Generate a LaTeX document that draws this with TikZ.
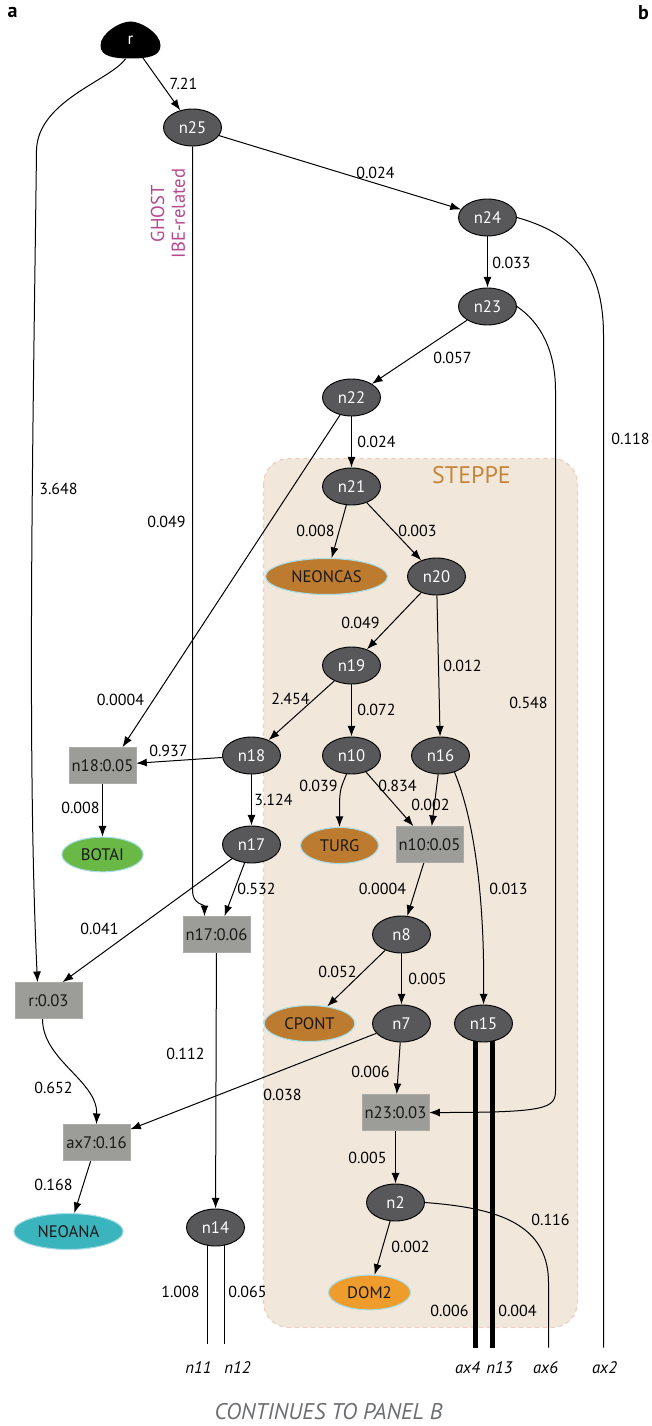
\documentclass[tikz,border=0pt]{standalone}
\usepackage{fontspec}
\setmainfont{PT Sans}
\usetikzlibrary{shapes.geometric,arrows.meta,calc,backgrounds}
\definecolor{ndgray}{HTML}{58585A}
\definecolor{boxgray}{HTML}{9C9D98}
\definecolor{steppefill}{HTML}{F1E7DB}
\definecolor{steppeedge}{HTML}{EFCDBD}
\definecolor{steppetext}{HTML}{C5863C}
\definecolor{brownleaf}{HTML}{BD7B2F}
\definecolor{greenleaf}{HTML}{6AB845}
\definecolor{tealleaf}{HTML}{3BB5BD}
\definecolor{orangeleaf}{HTML}{EE9D2D}
\definecolor{leafedge}{HTML}{A8DCE5}
\definecolor{ghostcol}{HTML}{B5498F}
\definecolor{contgray}{HTML}{6D6E71}
\newcommand\labfont{\fontsize{12}{14}\selectfont}
\newcommand\ndfont{\fontsize{12.5}{14}\selectfont}
\begin{document}
\begin{tikzpicture}[x=0.75pt,y=-0.75pt,
  nd/.style={ellipse, draw=black, line width=0.7pt, fill=ndgray, text=white,
    minimum width=43.5pt, minimum height=27.75pt, inner sep=0pt, font=\ndfont},
  bx/.style={rectangle, fill=boxgray, draw=boxgray!85!white, line width=0.5pt, text=black!90,
    minimum width=50pt, minimum height=27pt, inner sep=0pt, font=\ndfont},
  leaf/.style={ellipse, draw=leafedge, line width=0.8pt, text=black!90,
    minimum height=27pt, inner sep=0pt, font=\ndfont},
  lab/.style={font=\labfont, inner sep=0pt},
  tip/.style={font=\ndfont\itshape, inner sep=0pt},
  arr/.style={-{Latex[length=8pt,width=6pt]}, line width=0.75pt},
  ln/.style={line width=0.75pt},
  thick2/.style={line width=3.75pt},
]
\useasboundingbox (0,0) rectangle (651,1426);
\begin{scope}[shift={(0.5,0.5)}]

% panel letters
\node[font=\fontsize{15}{17}\selectfont\bfseries, inner sep=0pt] (pa) at (12,12) {a};
\node[font=\fontsize{15}{17}\selectfont\bfseries, inner sep=0pt] (pb) at (643,12) {b};

% root blob
\fill[black] (130,21) .. controls (141,21) and (160,33) .. (160,45)
  .. controls (160,56) and (147,58) .. (130,58)
  .. controls (113,58) and (100,56) .. (100,45)
  .. controls (100,33) and (119,21) .. (130,21);
\node[ellipse, minimum width=45pt, minimum height=27pt, inner sep=0pt, text=white, font=\ndfont] (r) at (130,40) {r};

% inner nodes
\node[nd] (n25) at (192,127) {n25};
\node[nd] (n24) at (487,217) {n24};
\node[nd] (n23) at (487,306) {n23};
\node[nd] (n22) at (351,397) {n22};
\node[nd] (n21) at (351,486) {n21};
\node[nd] (n20) at (436,576) {n20};
\node[nd] (n19) at (351,665) {n19};
\node[nd] (n18) at (251,755) {n18};
\node[nd] (n10) at (351,755) {n10};
\node[nd] (n16) at (440,755) {n16};
\node[nd] (n17) at (251,844) {n17};
\node[nd] (n8) at (401,934) {n8};
\node[nd] (n7) at (401,1023) {n7};
\node[nd] (n15) at (483,1023) {n15};
\node[nd] (n14) at (215,1227) {n14};
\node[nd] (n2) at (395,1202) {n2};

% admixture boxes
\node[bx] (b18) at (102,765) {n18:0.05};
\node[bx] (b10) at (429,844) {n10:0.05};
\node[bx] (b17) at (216,934) {n17:0.06};
\node[bx] (rr) at (48,1000) {r:0.03};
\node[bx] (b23) at (395,1112) {n23:0.03};
\node[bx] (b7) at (96,1142) {ax7:0.16};

% leaves
\node[leaf, fill=brownleaf, minimum width=91.5pt] (neoncas) at (326,576) {NEONCAS};
\node[leaf, fill=greenleaf, minimum width=61pt, minimum height=26pt] (botai) at (102,854) {BOTAI};
\node[leaf, fill=brownleaf, minimum width=58.5pt] (turg) at (339,845) {TURG};
\node[leaf, fill=brownleaf, minimum width=68pt] (cpont) at (309,1023) {CPONT};
\node[leaf, fill=tealleaf, minimum width=82pt] (neoana) at (68,1231) {NEOANA};
\node[leaf, fill=orangeleaf, minimum width=61.5pt, minimum height=26pt] (dom2) at (369,1292) {DOM2};

% free ends
\coordinate (e11) at (207,1343);
\coordinate (e12) at (224,1343);
\coordinate (eax4) at (475,1347);
\coordinate (e13) at (492,1347);
\coordinate (eax6) at (548,1347);
\coordinate (eax2) at (603,1347);

\begin{scope}[on background layer]
\draw[fill=steppefill, draw=steppeedge, dashed, line width=0.9pt, rounded corners=19pt]
  (263,458) rectangle (577,1327);

\draw[arr] (r) -- (n25);
\draw[arr] ($(r.south)+(-5,0)$) .. controls (110,80) and (37,100) .. (36,150)
  .. controls (33,400) and (26,750) .. ($(rr.north)+(-11,0)$);
\draw[arr] (n25) -- (n24);
\draw[arr] (n25.south) -- (192,890) .. controls (192,904) and (204,904) .. ($(b17.north)+(-12,0)$);
\draw[arr] (n24) -- (n23);
\draw[ln] (n24.east) .. controls (570,232) and (603,262) .. (603,335) -- (eax2);
\draw[arr] (n23) -- (n22);
\draw[arr] (n23.east) .. controls (540,322) and (555,350) .. (555,390) -- (555,1090)
  .. controls (555,1108) and (546,1112) .. (b23.east);
\draw[arr] (n22) -- (n21);
\draw[arr] (n22) -- ($(b18.north)+(20,0)$);
\draw[arr] (n21) -- (neoncas);
\draw[arr] (n21) -- (n20);
\draw[arr] (n20) -- (n19);
\draw[arr] (n20) -- (n16);
\draw[arr] (n19) -- (n18);
\draw[arr] (n19) -- (n10);
\draw[arr] (n18) -- (b18);
\draw[arr] (b18) -- (botai);
\draw[arr] (n18) -- (n17);
\draw[arr] (n10.255) .. controls (339,790) .. (turg.north);
\draw[arr] (n10) -- (b10);
\draw[arr] (n16) -- (b10);
\draw[arr] (n16.310) .. controls (478,830) and (484,920) .. (n15.north);
\draw[arr] (n17) -- ($(rr.north)+(14,0)$);
\draw[arr] (n17) -- ($(b17.north)+(8,0)$);
\draw[arr] (b10) -- (n8);
\draw[arr] (b17) -- (n14);
\draw[arr] (n8) -- (cpont);
\draw[arr] (n8) -- (n7);
\draw[arr] ($(rr.south)+(-6,0)$) .. controls (42,1060) and (97,1080) .. (b7.north);
\draw[arr] (n7) -- (b7);
\draw[arr] (n7) -- (b23);
\draw[arr] (b7) -- (neoana);
\draw[arr] (b23) -- (n2);
\draw[arr] (n2) -- (dom2);
\draw[ln] (n2.east) .. controls (490,1207) and (548,1220) .. (548,1282) -- (eax6);
\draw[thick2] ($(n15.center)+(-8,0)$) -- (eax4);
\draw[thick2] ($(n15.center)+(9,0)$) -- (e13);
\draw[ln] ($(n14.center)+(-8,0)$) -- (e11);
\draw[ln] ($(n14.center)+(9,0)$) -- (e12);
\end{scope}

\node[font=\fontsize{18}{20}\selectfont, text=steppetext, inner sep=0pt] (steppe) at (471,475) {STEPPE};
\node[font=\fontsize{14}{16}\selectfont, text=ghostcol, rotate=90, inner sep=0pt] (ghost) at (157,213) {GHOST};
\node[font=\fontsize{14}{16}\selectfont, text=ghostcol, rotate=90, inner sep=0pt] (ibe) at (178,213) {IBE-related};

% edge labels
\node[lab] (l1) at (183,83) {7.21};
\node[lab] (l2) at (58,488) {3.648};
\node[lab] (l3) at (166,521) {0.049};
\node[lab] (l4) at (375,172) {0.024};
\node[lab] (l5) at (511,262) {0.033};
\node[lab] (l6) at (630,438) {0.118};
\node[lab] (l7) at (528,702) {0.548};
\node[lab] (l8) at (452,357) {0.057};
\node[lab] (l9) at (376,441) {0.024};
\node[lab] (l10) at (120,699) {0.0004};
\node[lab] (l11) at (315,530) {0.008};
\node[lab] (l12) at (417,530) {0.003};
\node[lab] (l13) at (360,622) {0.049};
\node[lab] (l14) at (462,665) {0.012};
\node[lab] (l15) at (290,698) {2.454};
\node[lab] (l16) at (376,709) {0.072};
\node[lab] (l17) at (168,750) {0.937};
\node[lab] (l18) at (80,807) {0.008};
\node[lab] (l19) at (273,799) {3.124};
\node[lab] (l20) at (318,785) {0.039};
\node[lab] (l21) at (397,785) {0.834};
\node[lab] (l22) at (430,804) {0.002};
\node[lab] (l23) at (508,888) {0.013};
\node[lab] (l24) at (99,928) {0.041};
\node[lab] (l25) at (256,888) {0.532};
\node[lab] (l26) at (382,888) {0.0004};
\node[lab] (l27) at (185,1053) {0.112};
\node[lab] (l28) at (337,971) {0.052};
\node[lab] (l29) at (427,978) {0.005};
\node[lab] (l30) at (53,1087) {0.652};
\node[lab] (l31) at (282,1094) {0.038};
\node[lab] (l32) at (370,1071) {0.006};
\node[lab] (l33) at (53,1184) {0.168};
\node[lab] (l34) at (367,1157) {0.005};
\node[lab] (l35) at (410,1246) {0.002};
\node[lab] (l36) at (550,1219) {0.116};
\node[lab] (l37) at (449,1310) {0.006};
\node[lab] (l38) at (517,1310) {0.004};
\node[lab] (l39) at (180,1291) {1.008};
\node[lab] (l40) at (247,1291) {0.065};

% leaf tip labels
\node[tip] (t11) at (198,1367) {n11};
\node[tip] (t12) at (237,1367) {n12};
\node[tip] (tax4) at (467,1367) {ax4};
\node[tip] (t13) at (499,1367) {n13};
\node[tip] (tax6) at (545,1367) {ax6};
\node[tip] (tax2) at (604,1367) {ax2};

\node[font=\fontsize{17}{19}\selectfont\itshape, text=contgray, inner sep=0pt] (cont) at (328,1411) {CONTINUES TO PANEL B};
\end{scope}
\end{tikzpicture}
\end{document}
